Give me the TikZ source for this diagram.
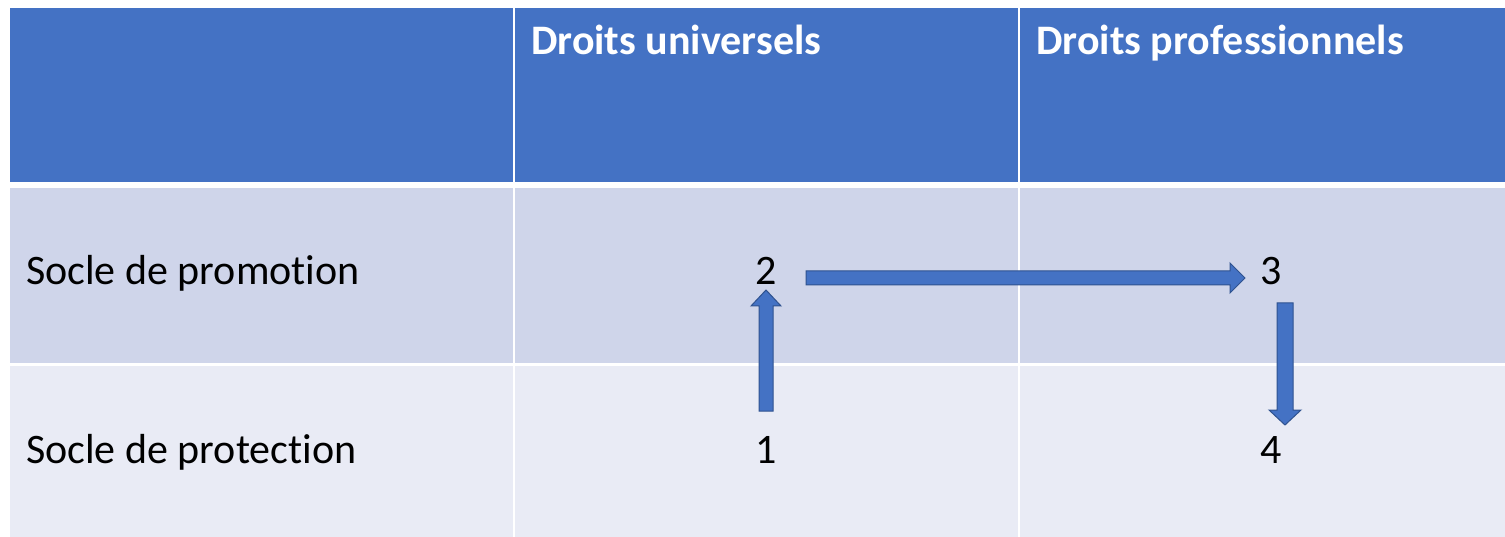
\documentclass[tikz,border=0pt]{standalone}
\usepackage{fontspec}
\setmainfont{Carlito}[Ligatures=NoCommon]
\usetikzlibrary{calc}
\definecolor{entete}{HTML}{4472C4}
\definecolor{ligneA}{HTML}{CFD5EA}
\definecolor{ligneB}{HTML}{E9EBF5}
\definecolor{bord}{HTML}{2F528F}

\begin{document}
\begin{tikzpicture}[x=1pt, y=-1pt, font=\fontsize{42}{50}\selectfont,
      titre/.style={anchor=base west, inner sep=0pt, text=white,
                    font=\fontsize{42}{50}\selectfont\bfseries},
      etiq/.style={anchor=base west, inner sep=0pt},
      chiffre/.style={anchor=base, inner sep=0pt},
      fleche/.style={fill=entete, draw=bord, line width=1pt, line join=miter}]
    \useasboundingbox (0,0) rectangle (1505,537);
    \fill[white] (0,0) rectangle (1505,537);
    % fonds du tableau
    \fill[entete] (10,8) rectangle (1505,182);
    \fill[ligneA] (10,188) rectangle (1505,363);
    \fill[ligneB] (10,366) rectangle (1505,537);
    \draw[white, line width=2.5pt] (514,8) -- (514,537);
    \draw[white, line width=2.5pt] (1019,8) -- (1019,537);
    % textes
    \node[titre] (univ) at (531,55) {Droits universels};
    \node[titre] (prof) at (1036,55) {Droits professionnels};
    \node[etiq] (promo) at (26,285) {Socle de promotion};
    \node[etiq] (protec) at (26,463) {Socle de protection};
    \node[chiffre] (n2) at (766,285) {2};
    \node[chiffre] (n3) at (1271,285) {3};
    \node[chiffre] (n1) at (766,463) {1};
    \node[chiffre] (n4) at (1271,463) {4};
    % fleches
    \coordinate (v0) at ($(n1.base)+(0,-52)$);
    \coordinate (v1) at ($(n2.base)+(0,5)$);
    \draw[fleche] ($(v0)+(-7,0)$) -- ($(v1)+(-7,16)$) -- ($(v1)+(-15,16)$) -- (v1)
      -- ($(v1)+(15,16)$) -- ($(v1)+(7,16)$) -- ($(v0)+(7,0)$) -- cycle;
    \coordinate (h0) at ($(n2.base)+(40,-7)$);
    \coordinate (h1) at ($(n3.base)+(-26,-7)$);
    \draw[fleche] ($(h0)+(0,-7)$) -- ($(h1)+(-15,-7)$) -- ($(h1)+(-15,-15)$) -- (h1)
      -- ($(h1)+(-15,15)$) -- ($(h1)+(-15,7)$) -- ($(h0)+(0,7)$) -- cycle;
    \coordinate (d0) at ($(n3.base)+(14,18)$);
    \coordinate (d1) at ($(n4.base)+(14,-38)$);
    \draw[fleche] ($(d0)+(-8,0)$) -- ($(d1)+(-8,-15)$) -- ($(d1)+(-16,-15)$) -- (d1)
      -- ($(d1)+(16,-15)$) -- ($(d1)+(8,-15)$) -- ($(d0)+(8,0)$) -- cycle;
\end{tikzpicture}
\end{document}
